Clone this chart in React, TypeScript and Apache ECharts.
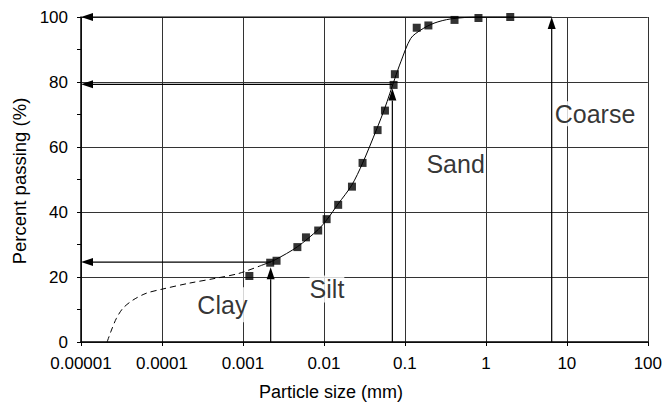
import React, { useEffect, useRef } from 'react';
import * as echarts from 'echarts';

// x tick labels (log axis, one per decade)
const tickLabels = ['0.00001', '0.0001', '0.001', '0.01', '0.1', '1', '10', '100'];

// measured samples
const sampleSize = [0.0012, 0.00217, 0.0026, 0.0047, 0.006, 0.0085, 0.0108, 0.015, 0.0222, 0.03, 0.046, 0.0567, 0.0725, 0.0752, 0.14, 0.195, 0.41, 0.81, 2.0];
const samplePassing = [20.3, 24.4, 25.0, 29.2, 32.2, 34.3, 37.8, 42.2, 47.8, 55.1, 65.2, 71.2, 79.1, 82.4, 96.7, 97.4, 99.1, 99.7, 100];

// fitted (solid) curve
const fitSize = [0.0017, 0.0025, 0.0047, 0.0085, 0.011, 0.015, 0.022, 0.03, 0.045, 0.056, 0.075, 0.089, 0.118, 0.157, 0.229, 0.366, 0.8, 2.0];
const fitPassing = [23.6, 25.3, 29.3, 34.6, 37.8, 42.5, 48.2, 55.0, 65.6, 71.7, 81.0, 86.2, 93.4, 96.0, 98.1, 99.4, 100, 100];

// extrapolated (dashed) curve
const extrapSize = [2.1e-5, 2.38e-5, 2.74e-5, 3.3e-5, 4.38e-5, 6.4e-5, 1.02e-4, 2.17e-4, 4.6e-4, 8.9e-4, 1.7e-3];
const extrapPassing = [0, 3.7, 7.3, 10.4, 12.9, 15.0, 16.3, 18.1, 19.6, 21.1, 23.6];

// arrows (from -> to)
const arrowFromSize = [6.5, 6.5, 0.07, 0.07, 0.0022, 0.0022];
const arrowFromPassing = [100, 0, 79.3, 0, 24.6, 0];
const arrowToSize = [0.00001, 6.5, 0.00001, 0.07, 0.00001, 0.0022];
const arrowToPassing = [100, 100, 79.3, 78, 24.6, 23];

// zone labels
const zoneNames = ['Clay', 'Silt', 'Sand', 'Coarse'];
const zoneSize = [5.57e-4, 0.0109, 0.423, 22.3];
const zonePassing = [11.5, 16.3, 54.8, 70.2];

const zonePadding: Record<string, number[]> = {
  Clay: [8, 0, 2, 0],
  Silt: [2, 0, 0, 0],
  Sand: [0, 0, 0, 0],
  Coarse: [0, 0, 0, 0],
};

const FONT = '"Liberation Sans", Arial, Helvetica, sans-serif';

export default function App() {
  const ref = useRef<HTMLDivElement>(null);
  useEffect(() => {
    const chart = echarts.init(ref.current!, null, { renderer: 'svg' });
    const gridLine = { show: true, lineStyle: { color: '#333', width: 1 } };
    chart.setOption({
      animation: false,
      backgroundColor: '#fff',
      grid: { left: 81, right: 13, top: 17, bottom: 60 },
      xAxis: {
        type: 'log',
        logBase: 10,
        min: 0.00001,
        max: 100,
        splitNumber: 7,
        axisLine: { show: true, lineStyle: { color: '#000', width: 1.5 } },
        axisTick: { show: true, length: 4, lineStyle: { color: '#000' } },
        minorTick: { show: false },
        splitLine: gridLine,
        axisLabel: {
          formatter: (v: number) => tickLabels[Math.round(Math.log10(v)) + 5] ?? '',
          fontSize: 17,
          color: '#000',
          fontFamily: FONT,
          margin: 13,
        },
      },
      yAxis: {
        type: 'value',
        min: 0,
        max: 100,
        interval: 20,
        axisLine: { show: true, lineStyle: { color: '#000', width: 1.5 } },
        axisTick: { show: true, length: 4, lineStyle: { color: '#000' } },
        minorTick: { show: true, splitNumber: 2, length: 4, lineStyle: { color: '#000' } },
        splitLine: gridLine,
        axisLabel: { fontSize: 17, color: '#000', fontFamily: FONT, margin: 13 },
      },
      graphic: [
        {
          type: 'text',
          x: 331,
          y: 392,
          style: {
            text: 'Particle size (mm)',
            fontSize: 18,
            fontFamily: FONT,
            fill: '#000',
            align: 'center',
            verticalAlign: 'middle',
          },
        },
        {
          type: 'text',
          x: 19,
          y: 181,
          rotation: Math.PI / 2,
          style: {
            text: 'Percent passing (%)',
            fontSize: 18.5,
            fontFamily: FONT,
            fill: '#000',
            align: 'center',
            verticalAlign: 'middle',
          },
        },
      ],
      series: [
        {
          type: 'scatter',
          z: 2,
          symbolSize: 1,
          itemStyle: { color: 'rgba(0,0,0,0)' },
          data: zoneNames.map((n, i) => ({
            name: n,
            value: [zoneSize[i], zonePassing[i]],
            label: { padding: zonePadding[n] },
          })),
          label: {
            show: true,
            position: 'inside',
            formatter: '{b}',
            fontSize: 25,
            color: '#000',
            fontFamily: FONT,
            backgroundColor: '#fff',
          },
          silent: true,
        },
        {
          type: 'line',
          z: 3,
          smooth: 0.3,
          showSymbol: false,
          data: extrapSize.map((s, i) => [s, extrapPassing[i]]),
          lineStyle: { color: '#000', width: 1, type: [6, 4] },
        },
        {
          type: 'line',
          z: 3,
          smooth: 0.3,
          showSymbol: false,
          data: fitSize.map((s, i) => [s, fitPassing[i]]),
          lineStyle: { color: '#000', width: 1 },
        },
        {
          type: 'custom',
          z: 3,
          encode: { x: [0, 2], y: [1, 3] },
          data: arrowFromSize.map((s, i) => [s, arrowFromPassing[i], arrowToSize[i], arrowToPassing[i]]),
          renderItem: (params: any, api: any) => {
            const a = api.coord([api.value(0), api.value(1)]);
            const b = api.coord([api.value(2), api.value(3)]);
            const dx = b[0] - a[0];
            const dy = b[1] - a[1];
            const len = Math.hypot(dx, dy) || 1;
            const ux = dx / len;
            const uy = dy / len;
            const headL = 12;
            const headW = 4;
            const base = [b[0] - ux * headL, b[1] - uy * headL];
            return {
              type: 'group',
              children: [
                {
                  type: 'line',
                  shape: { x1: a[0], y1: a[1], x2: base[0], y2: base[1] },
                  style: { stroke: '#000', lineWidth: 1.2 },
                },
                {
                  type: 'polygon',
                  shape: {
                    points: [
                      [b[0], b[1]],
                      [base[0] - uy * headW, base[1] + ux * headW],
                      [base[0] + uy * headW, base[1] - ux * headW],
                    ],
                  },
                  style: { fill: '#000' },
                },
              ],
            };
          },
        },
        {
          type: 'scatter',
          z: 4,
          symbol: 'rect',
          symbolSize: 8,
          itemStyle: { color: '#000' },
          data: sampleSize.map((s, i) => [s, samplePassing[i]]),
        },
      ],
    });
    return () => chart.dispose();
  }, []);
  return <div ref={ref} style={{ position: 'fixed', left: 0, top: 0, width: 665, height: 402 }} />;
}
